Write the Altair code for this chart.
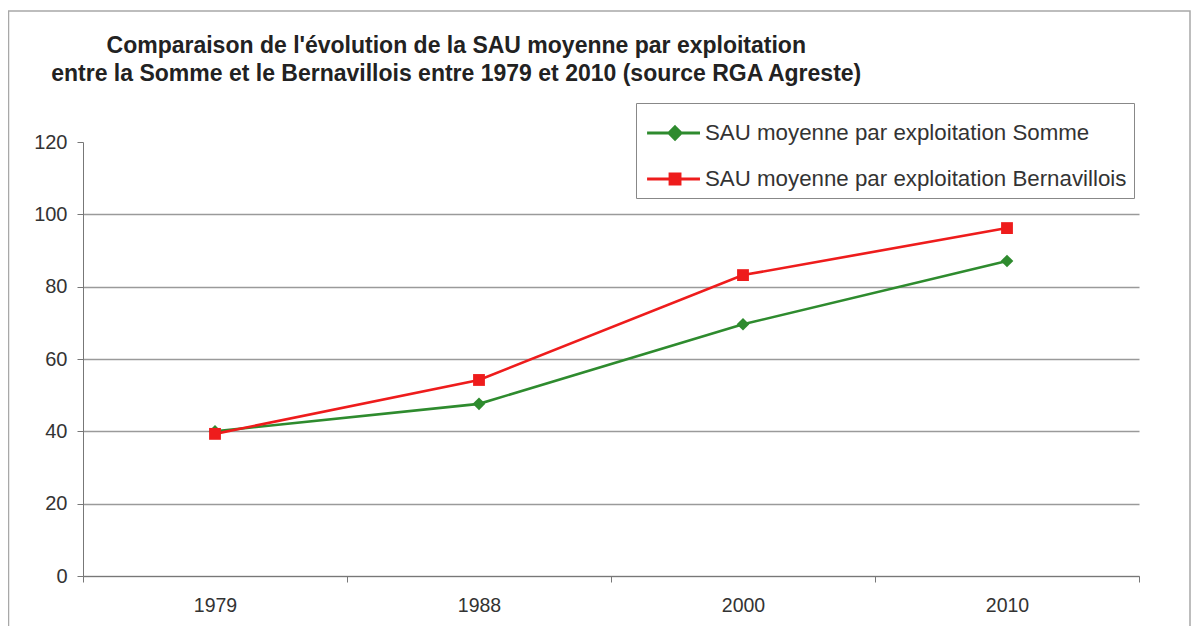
import altair as alt
import pandas as pd

years = ["1979", "1988", "2000", "2010"]
somme = [40.0, 47.6, 69.6, 87.1]
bernavillois = [39.3, 54.2, 83.2, 96.2]
series_names = [
    "SAU moyenne par exploitation Somme",
    "SAU moyenne par exploitation Bernavillois",
]
series_colors = ["#2E8B2E", "#EE1C1C"]
y_ticks = [0, 20, 40, 60, 80, 100, 120]
title_lines = [
    "Comparaison de l'évolution de la SAU moyenne par exploitation",
    "entre la Somme et le Bernavillois entre 1979 et 2010 (source RGA Agreste)",
]

rows = []
for y, v in zip(years, somme):
    rows.append({"year": y, "value": v, "series": series_names[0]})
for y, v in zip(years, bernavillois):
    rows.append({"year": y, "value": v, "series": series_names[1]})
df = pd.DataFrame(rows)

FONT = "Liberation Sans"

x_enc = alt.X(
    "year:N",
    sort=years,
    scale=alt.Scale(type="band", paddingInner=0, paddingOuter=0),
    axis=alt.Axis(
        title=None, labelAngle=0, tickBand="extent", tickSize=6,
        tickColor="#777", domainColor="#777", labelFontSize=19.5,
        labelFont=FONT, labelColor="#333", labelPadding=14, grid=False,
    ),
)
y_enc = alt.Y(
    "value:Q",
    scale=alt.Scale(domain=[0, 120], nice=False),
    axis=alt.Axis(
        title=None, values=y_ticks, tickSize=6, tickColor="#777",
        domainColor="#777", labelFontSize=20, labelFont=FONT,
        labelColor="#333", labelPadding=10, grid=True, gridColor="#9a9a9a",
        gridWidth=1.3,
        gridOpacity={"condition": {"test": "datum.value === 120", "value": 0}, "value": 1},
    ),
)
color_scale = alt.Scale(domain=series_names, range=series_colors)

base = alt.Chart(df)

frame = alt.Chart(alt.Data(values=[{"a": 1}])).mark_rect(
    filled=False, stroke="#a8a8a8", strokeWidth=1.5
).encode(
    x=alt.value(-74.5), x2=alt.value(1107), y=alt.value(-131), y2=alt.value(560)
)

lines = base.mark_line(strokeWidth=2.6).encode(
    x=x_enc, y=y_enc,
    color=alt.Color("series:N", scale=color_scale, legend=None),
)

pts_somme = base.transform_filter(
    alt.datum.series == series_names[0]
).mark_point(shape="diamond", filled=True, size=160, opacity=1).encode(
    x=x_enc, y=y_enc,
    color=alt.Color("series:N", scale=color_scale, legend=None),
)
pts_bern = base.transform_filter(
    alt.datum.series == series_names[1]
).mark_point(shape="square", filled=True, size=140, opacity=1).encode(
    x=x_enc, y=y_enc,
    color=alt.Color("series:N", scale=color_scale, legend=None),
)

path_diamond = "M-0.88,0L1.58,0M0.42,-0.28L0.70,0L0.42,0.28L0.14,0Z"
path_square = "M-0.88,0L1.58,0M0.19,-0.23L0.65,-0.23L0.65,0.23L0.19,0.23Z"

leg = alt.Legend(
    title=None, orient="none", legendX=553, legendY=-39, padding=7,
    rowPadding=10, strokeColor="#888", fillColor="white",
    labelFontSize=22.3, labelFont=FONT, labelColor="#333", labelOffset=16,
    labelLimit=0, symbolSize=1849, symbolStrokeWidth=3, symbolOpacity=1,
)

legend_layer = base.transform_filter("false").mark_point(
    filled=True, opacity=1, strokeWidth=3
).encode(
    x=x_enc, y=y_enc,
    color=alt.Color("series:N", scale=color_scale, legend=leg),
    stroke=alt.Stroke("series:N", scale=alt.Scale(domain=series_names, range=series_colors), legend=leg),
    shape=alt.Shape("series:N", scale=alt.Scale(domain=series_names, range=[path_diamond, path_square]), legend=leg),
)

chart = alt.layer(frame, lines, pts_somme, pts_bern, legend_layer).resolve_legend(
    color="independent", shape="independent", stroke="independent"
).properties(
    width=1056,
    height=434,
    background="white",
    title=alt.TitleParams(
        text=title_lines, anchor="start", align="center", dx=448.5,
        fontSize=23, font=FONT, fontWeight="bold", color="#222",
        lineHeight=28, offset=-76,
    ),
    autosize=alt.AutoSizeParams(type="none"),
    padding={"left": 75, "top": 134, "right": 53, "bottom": 50},
).configure_view(stroke=None)

chart.save("out.html", embed_options={"renderer": "svg", "actions": False})
